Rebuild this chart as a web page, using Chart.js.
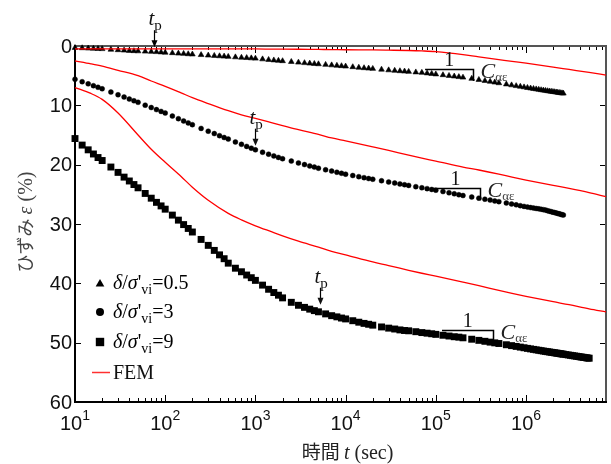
<!DOCTYPE html>
<html><head><meta charset="utf-8">
<script src="https://cdn.jsdelivr.net/npm/chart.js@4.4.1/dist/chart.umd.min.js"></script>
<style>html,body{margin:0;padding:0;background:#fff;}#wrap{width:611px;height:464px;}</style>
</head><body><div id="wrap"><canvas id="c" width="611" height="464"></canvas></div>
<script>
// ---- measured series (time in seconds, strain in %) ----
const timeSec = [10,12,14,16,18,20,25,30,35,40,45,50,60,70,80,90,
 100,120,140,160,180,200,250,300,350,400,450,500,600,700,800,900,
 1000,1200,1400,1600,1800,2000,2500,3000,3500,4000,4500,5000,6000,7000,8000,9000,
 10000,12000,14000,16000,18000,20000,25000,30000,35000,40000,45000,50000,60000,70000,80000,90000,
 100000,120000,140000,160000,180000,200000,250000,300000,350000,400000,450000,500000,
 604800,691200,777600,864000,950400,1036800,1123200,1209600,1296000,1382400,1468800,1555200,
 1641600,1728000,1814400,1900800,1987200,2073600,2160000,2246400,2332800,2419200,2505600,2592000];
const timeSecExtra = [2764800,2937600,3110400,3283200,3456000,3628800,3801600,3974400,4147200,4320000,4492800,4665600,4838400,5011200];

const strainRatio05 = [0.30,0.35,0.40,0.44,0.47,0.50,0.60,0.68,0.74,0.80,0.84,0.87,0.92,0.96,1.00,1.05,
 1.10,1.18,1.25,1.30,1.36,1.40,1.50,1.58,1.64,1.70,1.75,1.80,1.88,1.95,2.00,2.05,
 2.10,2.22,2.32,2.40,2.47,2.53,2.66,2.77,2.86,2.93,2.99,3.05,3.15,3.23,3.30,3.37,
 3.43,3.54,3.63,3.71,3.77,3.83,3.96,4.07,4.15,4.22,4.27,4.33,4.42,4.49,4.59,4.68,
 4.76,4.89,5.01,5.11,5.21,5.30,5.50,5.69,5.86,6.00,6.13,6.25,
 6.45,6.60,6.73,6.84,6.94,7.04,7.13,7.21,7.28,7.35,7.42,7.48,7.53,7.59,7.63,7.68,7.72,7.76,7.80,7.84,7.88,7.92,7.95,7.99];
const strainRatio3 = [5.60,6.02,6.38,6.69,6.96,7.21,7.76,8.22,8.60,8.94,9.23,9.49,9.97,10.37,10.72,11.02,
 11.30,11.81,12.25,12.63,12.96,13.26,13.89,14.36,14.76,15.11,15.42,15.69,16.17,16.57,16.92,17.22,
 17.50,17.90,18.23,18.52,18.78,19.00,19.39,19.71,19.98,20.21,20.41,20.60,20.86,21.08,21.28,21.45,
 21.60,21.83,22.02,22.19,22.34,22.46,22.71,22.92,23.09,23.25,23.38,23.50,23.71,23.89,24.04,24.18,
 24.30,24.54,24.74,24.91,25.07,25.20,25.45,25.64,25.82,25.97,26.11,26.23,
 26.45,26.62,26.77,26.91,27.03,27.14,27.23,27.31,27.38,27.45,27.52,27.58,27.66,27.75,27.84,27.92,28.00,28.08,28.15,28.22,28.29,28.36,28.42,28.48];
const strainRatio9 = [15.60,16.70,17.50,18.20,18.80,19.30,20.40,21.30,22.10,22.75,23.35,23.90,24.85,25.65,26.35,26.95,
 27.50,28.50,29.35,30.10,30.75,31.35,32.60,33.60,34.45,35.20,35.85,36.60,37.45,38.05,38.60,39.05,
 39.50,40.30,41.00,41.55,42.00,42.45,43.20,43.70,44.05,44.35,44.60,44.80,45.15,45.45,45.65,45.85,
 46.00,46.30,46.55,46.75,46.90,47.05,47.35,47.55,47.70,47.85,47.95,48.00,48.15,48.30,48.40,48.50,
 48.60,48.75,48.88,49.00,49.07,49.18,49.42,49.61,49.77,49.91,50.03,50.14,
 50.35,50.50,50.63,50.75,50.86,50.96,51.05,51.13,51.21,51.28,51.35,51.41,51.47,51.52,51.57,51.62,51.66,51.71,51.75,51.79,51.83,51.87,51.91,51.94,
 52.01,52.07,52.13,52.19,52.24,52.29,52.34,52.39,52.43,52.47,52.51,52.55,52.59,52.62];

// ---- FEM curves ----
const femTime = [10,15,20,30,50,70,100,150,200,300,500,700,1000,1500,2000,3000,5000,7000,
 10000,20000,30000,50000,70000,100000,200000,300000,500000,700000,1000000,2000000,3000000,5000000,7700000];
const femRatio05 = [0.50,0.50,0.50,0.50,0.50,0.50,0.50,0.50,0.50,0.50,0.50,0.50,0.50,0.52,0.53,0.55,0.58,0.60,
 0.63,0.66,0.70,0.76,0.83,0.95,1.45,1.85,2.30,2.60,2.90,3.55,3.95,4.45,4.90];
const femRatio3 = [2.5,3.0,3.4,4.1,5.0,5.9,6.8,7.9,8.7,9.7,10.9,11.6,12.2,12.9,13.4,14.1,14.9,15.5,
 16.0,17.0,17.6,18.4,18.9,19.4,20.4,20.9,21.6,22.1,22.6,23.5,24.0,24.7,25.4];
const femRatio9 = [7.0,8.0,9.0,11.3,15.0,17.4,19.6,22.0,23.8,26.0,28.2,29.3,30.3,31.3,32.0,32.9,33.9,34.6,
 35.2,36.4,37.0,37.8,38.3,38.8,39.8,40.4,41.2,41.7,42.2,43.1,43.6,44.3,44.8];

// ---- axes / ticks ----
const xMin = 10, xMax = 7700000;
const yMin = 0, yMax = 60;
const xMajorTicks = [10,100,1000,10000,100000,1000000];
const xTickExponents = ['1','2','3','4','5','6'];
const yTicks = [0,10,20,30,40,50,60];
const yTickLabels = ['0','10','20','30','40','50','60'];

// ---- annotations (data coordinates) ----
const tpTime = [75, 1000, 5200];
const tpStrain = [0.2, 16.8, 43.6];
const slopeStart = [76000, 87000, 117000];
const slopeEnd = [260000, 310000, 430000];
const slopeTop = [3.9, 23.9, 47.9];
const slopeBottom = [5.9, 26.0, 49.6];

const legendValues = ['0.5','3','9'];

const SERIF = '"Liberation Serif","Times New Roman",serif';
const SANS = '"Liberation Sans",Arial,sans-serif';
const CJK = '"Noto Sans CJK JP",sans-serif';

const toXY = (xs, ys) => ys.map((v, i) => ({x: xs[i], y: v}));

function runsWidth(ctx, runs){let w=0;for(const r of runs){ctx.font=r.f;w+=ctx.measureText(r.t).width;}return w;}
function drawRuns(ctx, runs, x, y){for(const r of runs){ctx.font=r.f;ctx.fillStyle=r.c||'#000';ctx.fillText(r.t,x,y+(r.dy||0));x+=ctx.measureText(r.t).width;}return x;}
function seg(ctx,x1,y1,x2,y2){ctx.beginPath();ctx.moveTo(x1,y1);ctx.lineTo(x2,y2);ctx.stroke();}
function marker(ctx, style, x, y, r){
  ctx.beginPath();
  if(style==='triangle'){ctx.moveTo(x,y-r);ctx.lineTo(x+r*0.866,y+r*0.5);ctx.lineTo(x-r*0.866,y+r*0.5);ctx.closePath();}
  else if(style==='circle'){ctx.arc(x,y,r,0,Math.PI*2);}
  else {ctx.rect(x-r,y-r,2*r,2*r);}
  ctx.fill();
}

const decor = {
  id:'decor',
  beforeDatasetsDraw(chart){
    const {ctx, chartArea:a, scales:{x,y}} = chart;
    ctx.save();
    ctx.strokeStyle='#000'; ctx.lineWidth=1;
    for(let k=0;k<xMajorTicks.length;k++){
      for(let m=1;m<=9;m++){
        const v = xMajorTicks[k]*m;
        if(v>xMax) continue;
        const px = Math.round(x.getPixelForValue(v))+0.5;
        const len = m===1?7:4;
        seg(ctx,px,a.bottom,px,a.bottom-len);
        seg(ctx,px,a.top,px,a.top+len);
      }
    }
    yTicks.forEach(v=>{
      const py=Math.round(y.getPixelForValue(v))+0.5;
      seg(ctx,a.left,py,a.left+6,py);
      seg(ctx,a.right,py,a.right-6,py);
    });
    ctx.lineWidth=2;
    ctx.strokeStyle='#555';
    seg(ctx,a.left,a.top,a.right+1,a.top);
    seg(ctx,a.right,a.top,a.right,a.bottom);
    ctx.strokeStyle='#000';
    seg(ctx,a.left,a.top-1,a.left,a.bottom+1);
    seg(ctx,a.left-1,a.bottom,a.right+1,a.bottom);
    ctx.fillStyle='#111'; ctx.font='20px '+SANS; ctx.textAlign='right'; ctx.textBaseline='middle';
    yTicks.forEach((v,i)=>{ctx.fillText(yTickLabels[i], a.left-3, y.getPixelForValue(v)+1);});
    ctx.textAlign='left'; ctx.textBaseline='alphabetic';
    xMajorTicks.forEach((v,i)=>{
      const runs=[{t:'10',f:'20px '+SANS,c:'#111'},{t:xTickExponents[i],f:'14px '+SANS,c:'#111',dy:-10}];
      const w=runsWidth(ctx,runs);
      drawRuns(ctx,runs,x.getPixelForValue(v)-w/2,430);
    });
    const xt=[{t:'時間 ',f:'19px '+CJK,c:'#222'},{t:'t',f:'italic 20px '+SERIF,c:'#222'},{t:' (sec)',f:'20px '+SERIF,c:'#222'}];
    const xw=runsWidth(ctx,xt);
    drawRuns(ctx,xt,(a.left+a.right)/2+7-xw/2,459);
    ctx.save();
    ctx.translate(25,(a.top+a.bottom)/2-2);
    ctx.rotate(-Math.PI/2);
    const yt=[{t:'ひずみ ',f:'18px '+CJK,c:'#444'},{t:'ε',f:'italic 20px '+SERIF,c:'#444'},{t:' (%)',f:'20px '+SERIF,c:'#444'}];
    const yw=runsWidth(ctx,yt);
    drawRuns(ctx,yt,-yw/2,7);
    ctx.restore();
    ctx.restore();
  },
  afterDatasetsDraw(chart){
    const {ctx, chartArea:a, scales:{x,y}} = chart;
    ctx.save();
    ctx.textAlign='left'; ctx.textBaseline='alphabetic';
    ctx.strokeStyle='#000'; ctx.fillStyle='#000';
    tpTime.forEach((t,i)=>{
      const px=Math.round(x.getPixelForValue(t))+0.5, py=y.getPixelForValue(tpStrain[i]);
      ctx.lineWidth=1.2;
      seg(ctx,px,py-17,px,py-5);
      ctx.beginPath();ctx.moveTo(px-3,py-7);ctx.lineTo(px+3,py-7);ctx.lineTo(px,py);ctx.closePath();ctx.fill();
      drawRuns(ctx,[{t:'t',f:'italic 21px '+SERIF,c:'#111'},{t:'p',f:'15px '+SERIF,c:'#111',dy:5}],px-6,py-22);
    });
    slopeStart.forEach((t,i)=>{
      const x1=x.getPixelForValue(t), x2=Math.round(x.getPixelForValue(slopeEnd[i]))+0.5;
      const y1=Math.round(y.getPixelForValue(slopeTop[i]))+0.5, y2=y.getPixelForValue(slopeBottom[i]);
      ctx.lineWidth=1.5; ctx.strokeStyle='#000';
      ctx.beginPath();ctx.moveTo(x1,y1);ctx.lineTo(x2,y1);ctx.lineTo(x2,y2);ctx.stroke();
      ctx.font='20px '+SERIF; ctx.fillStyle='#111';
      const w1=ctx.measureText('1').width;
      ctx.fillText('1',(x1+x2)/2-w1/2,y1-4);
      drawRuns(ctx,[{t:'C',f:'italic 22px '+SERIF,c:'#222'},{t:'αε',f:'13px '+SERIF,c:'#444',dy:3}],x2+7,y1+8);
    });
    const rows=[283,312,342,372];
    const styles=['triangle','circle','rect'];
    const radii=[5,4,4.2];
    legendValues.forEach((v,i)=>{
      ctx.fillStyle='#000';
      marker(ctx,styles[i],100,rows[i]+(i===0?1:0),radii[i]);
      drawRuns(ctx,[
        {t:'δ',f:'italic 20px '+SERIF},{t:'/',f:'20px '+SERIF},{t:'σ',f:'italic 20px '+SERIF},
        {t:"'",f:'20px '+SERIF},{t:'vi',f:'14px '+SERIF,dy:5},{t:'='+v,f:'20px '+SERIF}
      ],113,rows[i]+6);
    });
    ctx.strokeStyle='#ff3030'; ctx.lineWidth=1.5;
    seg(ctx,92,rows[3]+0.5,110,rows[3]+0.5);
    drawRuns(ctx,[{t:'FEM',f:'20px '+SERIF,c:'#111'}],113,rows[3]+7);
    ctx.restore();
  }
};

const allTime = timeSec.concat(timeSecExtra);
const ptBase = {showLine:false, clip:false, backgroundColor:'#000', borderColor:'#000', pointHoverRadius:0};
const femBase = {showLine:true, pointRadius:0, borderColor:'#ff0000', borderWidth:1.3, cubicInterpolationMode:'monotone', fill:false, clip:false};

new Chart(document.getElementById('c'), {
  type:'scatter',
  data:{datasets:[
    Object.assign({label:'FEM 0.5', data:toXY(femTime,femRatio05)}, femBase),
    Object.assign({label:'FEM 3', data:toXY(femTime,femRatio3)}, femBase),
    Object.assign({label:'FEM 9', data:toXY(femTime,femRatio9)}, femBase),
    Object.assign({label:"δ/σ'vi=0.5", data:toXY(timeSec,strainRatio05), pointStyle:'triangle', pointRadius:3.3, borderWidth:0.6}, ptBase),
    Object.assign({label:"δ/σ'vi=3", data:toXY(timeSec,strainRatio3), pointStyle:'circle', pointRadius:2.5, borderWidth:0.4}, ptBase),
    Object.assign({label:"δ/σ'vi=9", data:toXY(allTime,strainRatio9), pointStyle:'rect', pointRadius:4.9, borderWidth:0}, ptBase)
  ]},
  options:{
    responsive:false, animation:false, devicePixelRatio:1,
    layout:{padding:{left:75,right:5,top:46,bottom:62}},
    scales:{
      x:{type:'logarithmic', min:xMin, max:xMax, display:false},
      y:{type:'linear', min:yMin, max:yMax, reverse:true, display:false}
    },
    plugins:{legend:{display:false}, tooltip:{enabled:false}}
  },
  plugins:[decor]
});
</script>
</body></html>
